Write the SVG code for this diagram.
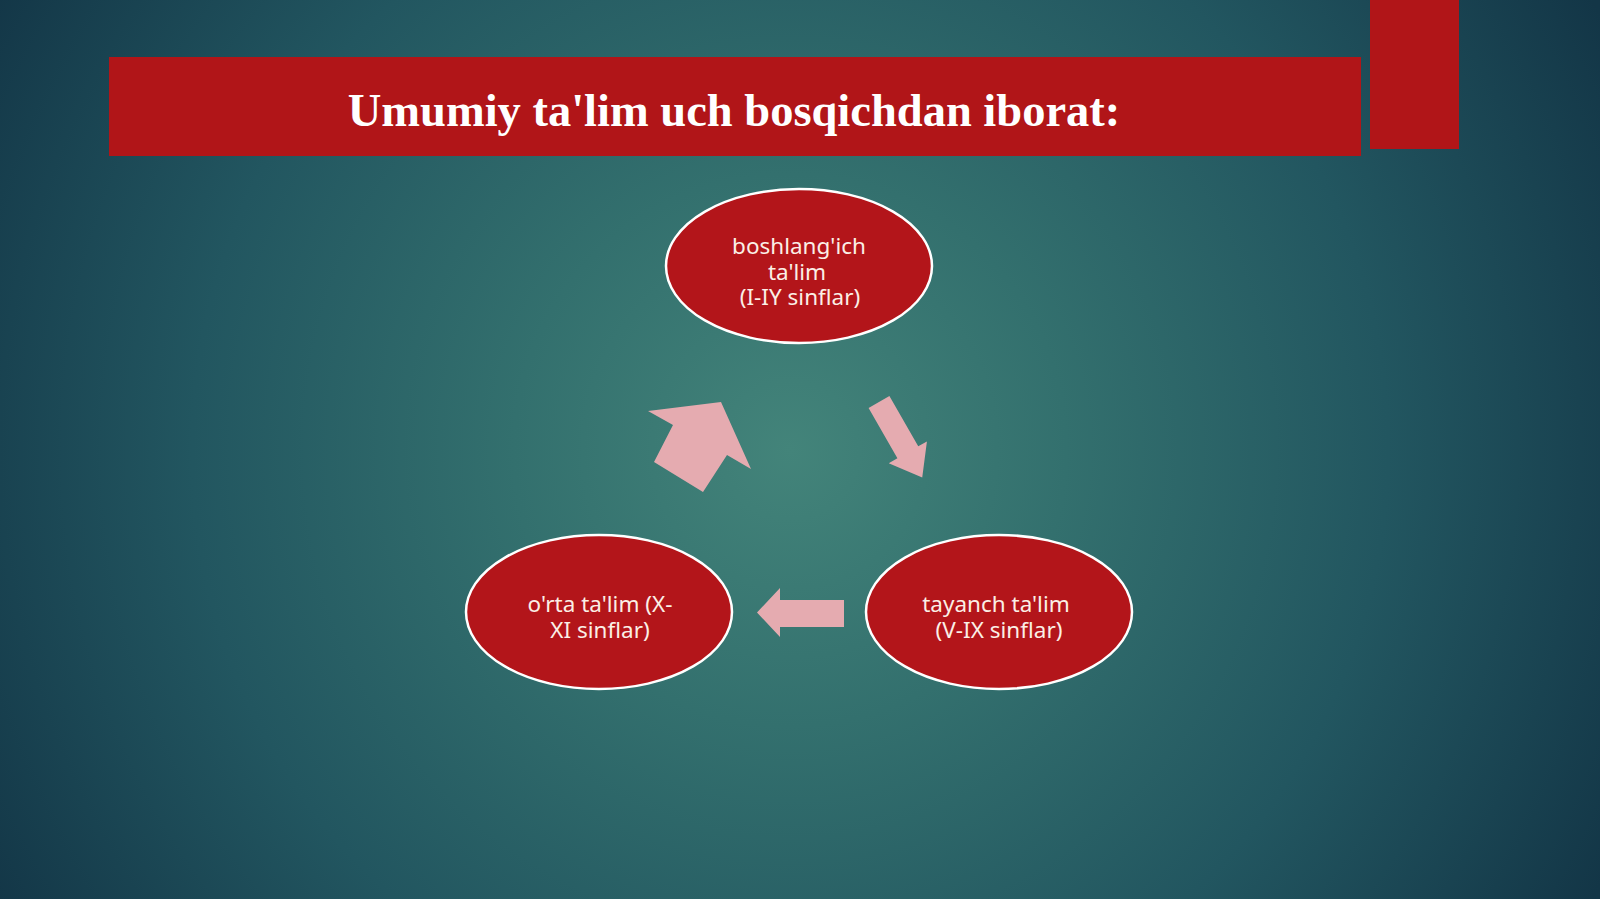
<svg xmlns="http://www.w3.org/2000/svg" width="1600" height="899" viewBox="0 0 1600 899">
  <defs>
    <radialGradient id="bg" gradientUnits="userSpaceOnUse" cx="790" cy="450" r="920">
      <stop offset="0" stop-color="#43847A"/>
      <stop offset="0.3" stop-color="#33706E"/>
      <stop offset="0.65" stop-color="#225660"/>
      <stop offset="1" stop-color="#133647"/>
    </radialGradient>
    <style>
      .node ellipse { fill: #B3151A; stroke: #FFFFFF; stroke-width: 2.5; }
      .node text { font-family: "Noto Sans", "Open Sans", sans-serif; font-size: 22.5px; fill: #FBEFE6; text-anchor: middle; }
      .arrow { fill: #E5ABB0; }
      .bar { fill: #B11518; }
      .title { font-family: "Liberation Serif", "Times New Roman", serif; font-weight: bold; font-size: 46.5px; fill: #FFFFFF; text-anchor: middle; }
    </style>
  </defs>

  <rect x="0" y="0" width="1600" height="899" fill="url(#bg)"/>

  <g id="header">
    <rect class="bar" x="109" y="57" width="1252" height="99"/>
    <rect class="bar" x="1370" y="0" width="89" height="149"/>
    <text class="title" x="734" y="126">Umumiy ta'lim uch bosqichdan iborat:</text>
  </g>

  <g id="node-boshlangich" class="node">
    <ellipse cx="799" cy="266" rx="133" ry="77"/>
    <text x="799" y="254">boshlang'ich</text>
    <text x="797" y="279.5">ta'lim</text>
    <text x="800" y="305">(I-IY sinflar)</text>
  </g>

  <g id="node-tayanch" class="node">
    <ellipse cx="999" cy="612" rx="133" ry="77"/>
    <text x="996" y="612">tayanch ta'lim</text>
    <text x="999" y="637.5">(V-IX sinflar)</text>
  </g>

  <g id="node-orta" class="node">
    <ellipse cx="599" cy="612" rx="133" ry="77"/>
    <text x="600" y="612">o'rta ta'lim (X-</text>
    <text x="600" y="637.5">XI sinflar)</text>
  </g>

  <g id="connectors">
    <polygon class="arrow" transform="translate(879,402) rotate(60.2)" points="0,-12 58,-12 58,-22 87,0 58,22 58,12 0,12"/>
    <polygon class="arrow" points="844,600 780,600 780,588 757,612.5 780,637 780,627 844,627"/>
    <polygon class="arrow" points="654,462 673,425 648,411 721,402 751,469 727,455 703,492"/>
  </g>
</svg>
